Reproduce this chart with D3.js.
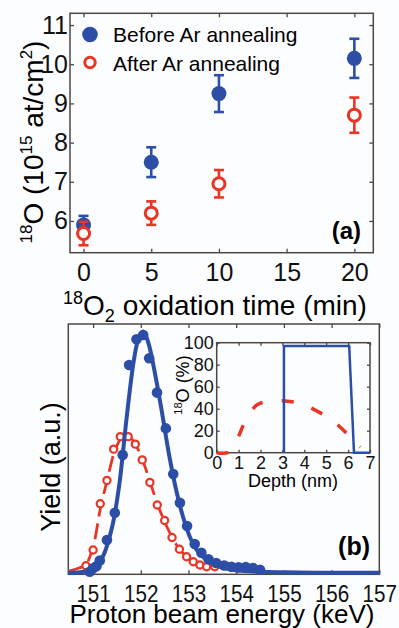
<!DOCTYPE html>
<html>
<head>
<meta charset="utf-8">
<script src="https://cdn.jsdelivr.net/npm/d3@7"></script>
<style>
  body { margin: 0; background: #fcfdff; }
  svg { display: block; font-family: Arial, "Liberation Sans", sans-serif; }
  .tick line { stroke: #4d4744; stroke-width: 1.3; }
  .tick text { fill: #111; }
</style>
</head>
<body>
<div id="chart"></div>
<script>
// ---- data, panel (a) ----
var times = [0, 5, 10, 20];
var beforeVals = [5.9, 7.5, 9.25, 10.15];
var beforeErr = [0.23, 0.38, 0.47, 0.5];
var afterVals = [5.68, 6.2, 6.95, 8.7];
var afterErr = [0.3, 0.3, 0.35, 0.45];
var aTicksX = [0, 5, 10, 15, 20];
var aTicksY = [6, 7, 8, 9, 10, 11];

// ---- data, panel (b) ----
var blueE = [150.93, 151.0, 151.07, 151.14, 151.29, 151.455, 151.62, 151.755, 151.91, 152.05,
  152.175, 152.34, 152.525, 152.68, 152.82, 152.97, 153.13, 153.27, 153.42, 153.58,
  153.75, 153.9, 154.05, 154.2, 154.35, 154.5];
var blueY = [1.0, 2.4, 3.2, 5.5, 13.7, 24.6, 47.7, 83.6, 93.9, 95.6,
  86.3, 72.6, 58.3, 40.1, 28.6, 19.3, 12.1, 8.6, 6.0, 4.5,
  3.5, 3.0, 2.8, 2.9, 2.5, 1.8];
var blueFitE = [150.48, 150.8, 151.0, 151.2, 151.4, 151.55, 151.7, 151.85, 151.95, 152.05,
  152.15, 152.3, 152.45, 152.6, 152.75, 152.9, 153.05, 153.2, 153.4, 153.6,
  153.8, 154.0, 154.5, 155, 156, 157];
var blueFitY = [0.5, 1.0, 2.5, 7, 19, 36, 62, 85, 94, 97,
  93, 80, 64, 47, 33, 22, 14, 9, 5.5, 3.5,
  2.3, 1.6, 1.0, 0.8, 0.6, 0.6];
var redE = [150.85, 151.0, 151.15, 151.29, 151.43, 151.57, 151.735, 151.885, 152.03, 152.19,
  152.345, 152.5, 152.655, 152.81, 152.96, 153.1, 153.24, 153.38, 153.55, 153.72,
  153.87, 154.02];
var redY = [3.4, 9.7, 28.2, 37.5, 50, 55, 55, 52, 45.7, 36.7,
  27.7, 21.5, 14.7, 10, 7, 5, 3.7, 3, 3, 3.5,
  3, 2.4];
var redFitE = [150.48, 150.7, 150.85, 151.0, 151.15, 151.3, 151.45, 151.6, 151.75, 151.9,
  152.05, 152.2, 152.35, 152.5, 152.65, 152.8, 152.95, 153.1, 153.3, 153.6, 153.9, 154.1];
var redFitY = [1.2, 2.5, 4, 11, 26, 38, 49, 54.5, 55, 51.5,
  45, 36.5, 28, 21, 15, 10.3, 7.2, 5.2, 3.8, 3.2, 2.8, 2.2];
var bTicksX = [151, 152, 153, 154, 155, 156, 157];

// ---- data, inset ----
var stepDepth = [3.07, 3.07, 6.05, 6.27, 7];
var stepPct = [0, 97, 97, 0, 0];
var annDepth = [0, 0.5, 0.75, 1.0, 1.25, 1.5, 1.75, 2.0, 2.36, 3.0, 3.65, 4.0, 4.41, 5.02, 5.4, 5.78, 6.1, 6.39, 6.55];
var annPct = [0, 0, 5, 15, 26.5, 35, 42, 45, 46.5, 47.3, 45.5, 43.5, 39.6, 32.9, 27.5, 20.6, 14, 7.9, 5];
var iTicksX = [0, 1, 2, 3, 4, 5, 6, 7];
var iTicksY = [0, 20, 40, 60, 80, 100];

var blue = "#2c4ea6";
var red = "#ea3424";
var frame = "#4d4744";
var bg = "#fcfdff";

var svg = d3.select("#chart").append("svg")
  .attr("width", 399)
  .attr("height", 628);

// ================= panel (a) =================
var xA = d3.scaleLinear().domain([-1, 21.4]).range([70, 373.3]);
var yA = d3.scaleLinear().domain([5.19, 11.3]).range([252.7, 13.3]);

var gA = svg.append("g");

// framed box with inward ticks on all four sides
function boxAxes(g, x, y, xt, yt, opts) {
  var x0 = x.range()[0], x1 = x.range()[1];
  var y0 = y.range()[0], y1 = y.range()[1];
  var fmt = d3.format("d");
  var bottom = d3.axisBottom(x).tickValues(xt).tickFormat(fmt).tickSize(-opts.tick).tickPadding(opts.xpad);
  var top = d3.axisTop(x).tickValues(xt).tickSize(-opts.tick).tickFormat("");
  var gb = g.append("g").attr("transform", `translate(0,${y0})`).call(bottom);
  gb.selectAll("text").style("font-size", opts.xfont + "px");
  if (opts.squeeze) {
    // the original's numerals are a bit narrower than Arial
    gb.selectAll("text").attr("transform", `scale(${opts.squeeze},1)`);
  }
  g.append("g").attr("transform", `translate(0,${y1})`).call(top);
  if (yt) {
    var left = d3.axisLeft(y).tickValues(yt).tickFormat(fmt).tickSize(-opts.tick).tickPadding(opts.ypad);
    var right = d3.axisRight(y).tickValues(yt).tickSize(-opts.tick).tickFormat("");
    var gl = g.append("g").attr("transform", `translate(${x0},0)`).call(left);
    gl.selectAll("text").style("font-size", opts.yfont + "px");
    g.append("g").attr("transform", `translate(${x1},0)`).call(right);
  }
  g.selectAll(".domain").remove();
  g.append("rect")
    .attr("x", x0).attr("y", y1)
    .attr("width", x1 - x0).attr("height", y0 - y1)
    .attr("fill", "none")
    .attr("stroke", frame)
    .attr("stroke-width", 1.5);
}

boxAxes(gA, xA, yA, aTicksX, aTicksY, {tick: 4, xpad: 11, ypad: 2, xfont: 25, yfont: 25});

function errorBars(g, vals, errs, color) {
  var eb = g.append("g").attr("stroke", color).attr("stroke-width", 2.6).attr("fill", "none");
  times.forEach(function(t, i) {
    var cx = xA(t);
    eb.append("line").attr("x1", cx).attr("x2", cx)
      .attr("y1", yA(vals[i] - errs[i])).attr("y2", yA(vals[i] + errs[i]));
    [vals[i] - errs[i], vals[i] + errs[i]].forEach(function(v) {
      eb.append("line").attr("x1", cx - 5).attr("x2", cx + 5)
        .attr("y1", yA(v)).attr("y2", yA(v));
    });
  });
}

errorBars(gA, beforeVals, beforeErr, blue);
gA.append("g").selectAll("circle")
  .data(times)
  .enter()
  .append("circle")
  .attr("cx", d => xA(d))
  .attr("cy", (d, i) => yA(beforeVals[i]))
  .attr("r", 7.5)
  .attr("fill", blue);

errorBars(gA, afterVals, afterErr, red);
gA.append("g").selectAll("circle")
  .data(times)
  .enter()
  .append("circle")
  .attr("cx", d => xA(d))
  .attr("cy", (d, i) => yA(afterVals[i]))
  .attr("r", 6)
  .attr("fill", bg)
  .attr("stroke", red)
  .attr("stroke-width", 3);

// legend
gA.append("circle").attr("cx", 90).attr("cy", 34.5).attr("r", 7.8).attr("fill", blue);
gA.append("text").attr("x", 113).attr("y", 41.7).style("font-size", "21px").text("Before Ar annealing");
gA.append("circle").attr("cx", 90).attr("cy", 62.5).attr("r", 5.2)
  .attr("fill", bg).attr("stroke", red).attr("stroke-width", 3);
gA.append("text").attr("x", 113).attr("y", 70.7).style("font-size", "21px").text("After Ar annealing");

gA.append("text").attr("x", 361).attr("y", 239).attr("text-anchor", "end")
  .style("font-size", "24px").style("font-weight", "bold").text("(a)");

// axis titles (a)
var xtA = gA.append("text").attr("x", 215).attr("y", 315).attr("text-anchor", "middle")
  .style("font-size", "28px");
xtA.append("tspan").style("font-size", "18px").attr("dy", -11).text("18");
xtA.append("tspan").attr("dy", 11).text("O");
xtA.append("tspan").style("font-size", "18px").attr("dy", 7).text("2");
xtA.append("tspan").attr("dy", -7).text(" oxidation time (min)");

var ytA = gA.append("text")
  .attr("transform", "translate(43,142) rotate(-90)")
  .attr("text-anchor", "middle")
  .style("font-size", "28px");
ytA.append("tspan").style("font-size", "17px").attr("dy", -11).text("18");
ytA.append("tspan").attr("dy", 11).text("O (10");
ytA.append("tspan").style("font-size", "17px").attr("dy", -11).text("15");
ytA.append("tspan").attr("dy", 11).text(" at/cm");
ytA.append("tspan").style("font-size", "17px").attr("dy", -11).text("2");
ytA.append("tspan").attr("dy", 11).text(")");

// ================= panel (b) =================
var xB = d3.scaleLinear().domain([150.48, 157]).range([68.3, 379.3]);
var yB = d3.scaleLinear().domain([0, 100]).range([574.3, 324]);

var gB = svg.append("g");
boxAxes(gB, xB, yB, bTicksX, null, {tick: 4, xpad: 11, xfont: 24, squeeze: 0.86});

var lineB = d3.line()
  .x(d => xB(d[0]))
  .y(d => yB(d[1]))
  .curve(d3.curveCatmullRom);

gB.append("path")
  .datum(d3.zip(redFitE, redFitY))
  .attr("d", lineB)
  .attr("fill", "none")
  .attr("stroke", red)
  .attr("stroke-width", 2.8)
  .attr("stroke-dasharray", "16,7");

gB.append("g").selectAll("circle")
  .data(d3.zip(redE, redY))
  .enter()
  .append("circle")
  .attr("cx", d => xB(d[0]))
  .attr("cy", d => yB(d[1]))
  .attr("r", 3.6)
  .attr("fill", bg)
  .attr("stroke", red)
  .attr("stroke-width", 2.2);

gB.append("g").selectAll("circle")
  .data(d3.zip(blueE, blueY))
  .enter()
  .append("circle")
  .attr("cx", d => xB(d[0]))
  .attr("cy", d => yB(d[1]))
  .attr("r", 5.3)
  .attr("fill", blue);

gB.append("path")
  .datum(d3.zip(blueFitE, blueFitY))
  .attr("d", lineB)
  .attr("fill", "none")
  .attr("stroke", blue)
  .attr("stroke-width", 4);

gB.append("text").attr("x", 370).attr("y", 555).attr("text-anchor", "end")
  .style("font-size", "25px").style("font-weight", "bold").text("(b)");

gB.append("text").attr("x", 222).attr("y", 623).attr("text-anchor", "middle")
  .style("font-size", "26px").text("Proton beam energy (keV)");

gB.append("text")
  .attr("transform", "translate(60,467) rotate(-90)")
  .attr("text-anchor", "middle")
  .style("font-size", "27px")
  .text("Yield (a.u.)");

// ================= inset =================
var xI = d3.scaleLinear().domain([0, 7]).range([216.7, 370]);
var yI = d3.scaleLinear().domain([0, 100]).range([452.7, 342.7]);

var gI = svg.append("g");
gI.append("rect").attr("x", 216.7).attr("y", 342.7)
  .attr("width", 370 - 216.7).attr("height", 110).attr("fill", bg);
boxAxes(gI, xI, yI, iTicksX, iTicksY, {tick: 3, xpad: 4, ypad: 3, xfont: 18, yfont: 18});

var lineI = d3.line()
  .x(d => xI(d[0]))
  .y(d => yI(d[1]));

gI.append("path")
  .datum(d3.zip(annDepth, annPct))
  .attr("d", lineI.curve(d3.curveCatmullRom))
  .attr("fill", "none")
  .attr("stroke", red)
  .attr("stroke-width", 3.5)
  .attr("stroke-dasharray", "12,19");

gI.append("path")
  .datum(d3.zip(stepDepth, stepPct))
  .attr("d", d3.line().x(d => xI(d[0])).y(d => yI(d[1])))
  .attr("fill", "none")
  .attr("stroke", blue)
  .attr("stroke-width", 2.5);

gI.append("text").attr("x", 293).attr("y", 487).attr("text-anchor", "middle")
  .style("font-size", "18px").text("Depth (nm)");

var ytI = gI.append("text")
  .attr("transform", "translate(189,385) rotate(-90)")
  .attr("text-anchor", "middle")
  .style("font-size", "18px");
ytI.append("tspan").style("font-size", "11px").attr("dy", -7).text("18");
ytI.append("tspan").attr("dy", 7).text("O (%)");
</script>
</body>
</html>
